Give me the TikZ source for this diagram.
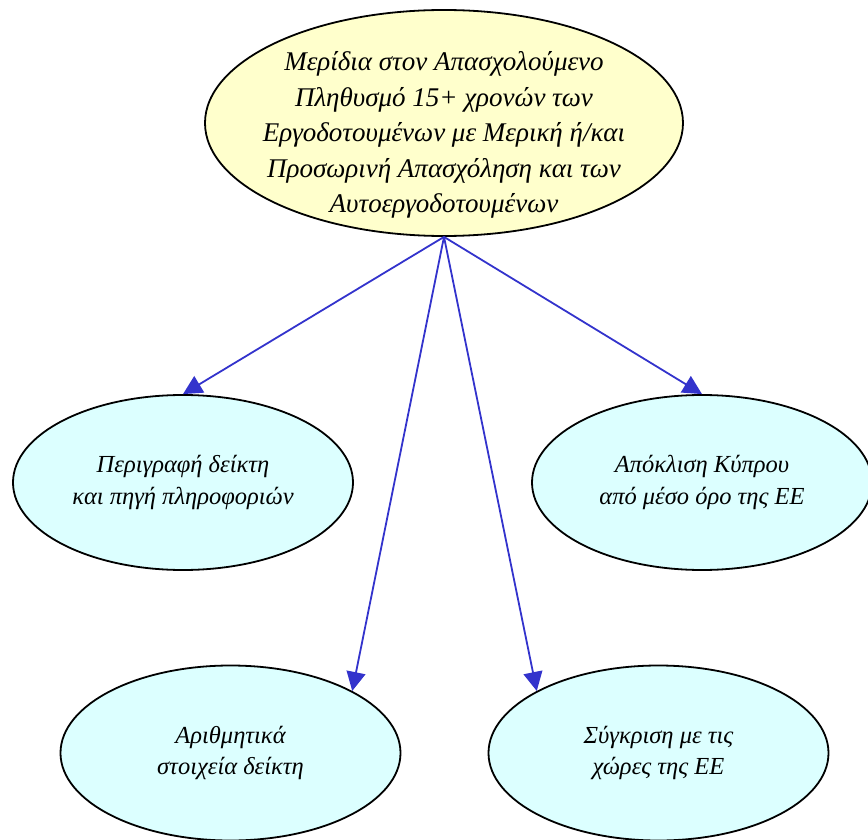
\documentclass[tikz,border=0pt]{standalone}
\usepackage{fontspec}
\setmainfont{Liberation Serif}
\usetikzlibrary{arrows.meta,shapes.geometric}
\definecolor{topfill}{RGB}{255,255,204}
\definecolor{subfill}{RGB}{220,255,255}
\definecolor{edgeblue}{RGB}{51,51,204}
\begin{document}
\begin{tikzpicture}[x=1pt,y=-1pt,
  topbox/.style={ellipse,draw=black,line width=1.8pt,fill=topfill,inner sep=0pt,
    minimum width=478pt,minimum height=226pt,
    font=\itshape\fontsize{27}{35.5}\selectfont},
  subbox/.style={ellipse,draw=black,line width=1.8pt,fill=subfill,inner sep=0pt,
    minimum width=340pt,minimum height=175pt,align=center,
    font=\itshape\fontsize{24.5}{31.5}\selectfont},
  link/.style={draw=edgeblue,line width=1.8pt,-{Triangle[length=19pt,width=19pt]}}]
\useasboundingbox (0,0) rectangle (868,840);
\node[topbox] (top) at (444,123) {\makebox[0pt]{\raisebox{-18pt}[0pt][0pt]{\begin{tabular}{@{}c@{}}Μερίδια στον Απασχολούμενο\\Πληθυσμό 15+ χρονών των\\Εργοδοτουμένων με Μερική ή/και\\ Προσωρινή Απασχόληση και των\\Αυτοεργοδοτουμένων\end{tabular}}}};
\node[subbox] (desc) at (183,482.5) {Περιγραφή δείκτη\\και πηγή πληροφοριών};
\node[subbox] (dev) at (702,482.5) {Απόκλιση Κύπρου\\από μέσο όρο της ΕΕ};
\node[subbox] (num) at (230.5,753) {Αριθμητικά\\στοιχεία δείκτη};
\node[subbox] (cmp) at (658.5,753) {Σύγκριση με τις\\χώρες της ΕΕ};
\draw[link] (top.south) -- (desc.north);
\draw[link] (top.south) -- (dev.north);
\draw[link] (top.south) -- (num.27);
\draw[link] (top.south) -- (cmp.153);
\end{tikzpicture}
\end{document}
